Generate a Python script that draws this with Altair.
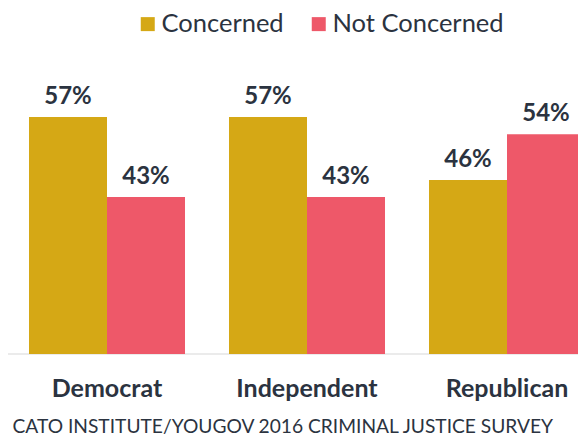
import altair as alt
import pandas as pd

parties = ["Democrat", "Independent", "Republican"]
series = ["Concerned", "Not Concerned"]
concerned = [57, 57, 46]
not_concerned = [43, 43, 54]
colors = ["#D5A815", "#EE5869"]
source_text = "CATO INSTITUTE/YOUGOV 2016 CRIMINAL JUSTICE SURVEY"

rows = []
for p, c, n in zip(parties, concerned, not_concerned):
    rows.append({"party": p, "series": series[0], "value": c, "label": f"{c}%"})
    rows.append({"party": p, "series": series[1], "value": n, "label": f"{n}%"})
df = pd.DataFrame(rows)
cats = pd.DataFrame({"party": parties})

FONT = "Lato"
TXT = "#2B3340"

xscale = alt.Scale(domain=parties, range=[-1, 599], paddingInner=0, paddingOuter=0)
xoff = alt.Scale(domain=series, paddingInner=0, paddingOuter=0.282)
yscale = alt.Scale(domain=[0, 60], range=[434.7, 91.9])

bars = alt.Chart(df).mark_bar().encode(
    x=alt.X("party:N", scale=xscale, axis=None, sort=parties),
    xOffset=alt.XOffset("series:N", scale=xoff, sort=series),
    y=alt.Y("value:Q", scale=yscale, axis=None),
    y2=alt.datum(15.52),
    color=alt.Color(
        "series:N",
        scale=alt.Scale(domain=series, range=colors),
        legend=alt.Legend(
            title=None,
            orient="none",
            legendX=127,
            legendY=3,
            direction="horizontal",
            symbolType="square",
            symbolSize=196,
            symbolStrokeWidth=0,
            symbolOpacity=1,
            labelFont=FONT,
            labelFontSize=25.5,
            labelColor=TXT,
            labelOffset=1,
            labelLimit=400,
            columnPadding=22,
        ),
    ),
)

labels = alt.Chart(df).mark_text(
    font=FONT, fontSize=24, fontWeight="bold", color=TXT, baseline="alphabetic", dy=-13
).encode(
    x=alt.X("party:N", scale=xscale, axis=None, sort=parties),
    xOffset=alt.XOffset("series:N", scale=xoff, sort=series),
    y=alt.Y("value:Q", scale=yscale, axis=None),
    text="label:N",
)

base_rule = alt.Chart(cats).mark_rule(color="#EBEBEB", strokeWidth=2).encode(
    x=alt.value(0), x2=alt.value(578), y=alt.value(346)
)

cat_labels = alt.Chart(cats).mark_text(
    font=FONT, fontSize=25, fontWeight="bold", color=TXT, baseline="alphabetic"
).encode(
    x=alt.X("party:N", scale=xscale, axis=None, sort=parties),
    y=alt.value(389),
    text="party:N",
)

src = alt.Chart(pd.DataFrame({"t": [source_text]})).mark_text(
    font=FONT, fontSize=19.2, color=TXT, align="left", baseline="alphabetic"
).encode(x=alt.value(4.5), y=alt.value(424.5), text="t:N")

chart = alt.layer(base_rule, bars, labels, cat_labels, src).properties(
    width=570, height=431, autosize=alt.AutoSizeParams(type="none"), padding=0
).configure_view(stroke=None)

chart.save("out.html", embed_options={"renderer": "svg", "actions": False})
